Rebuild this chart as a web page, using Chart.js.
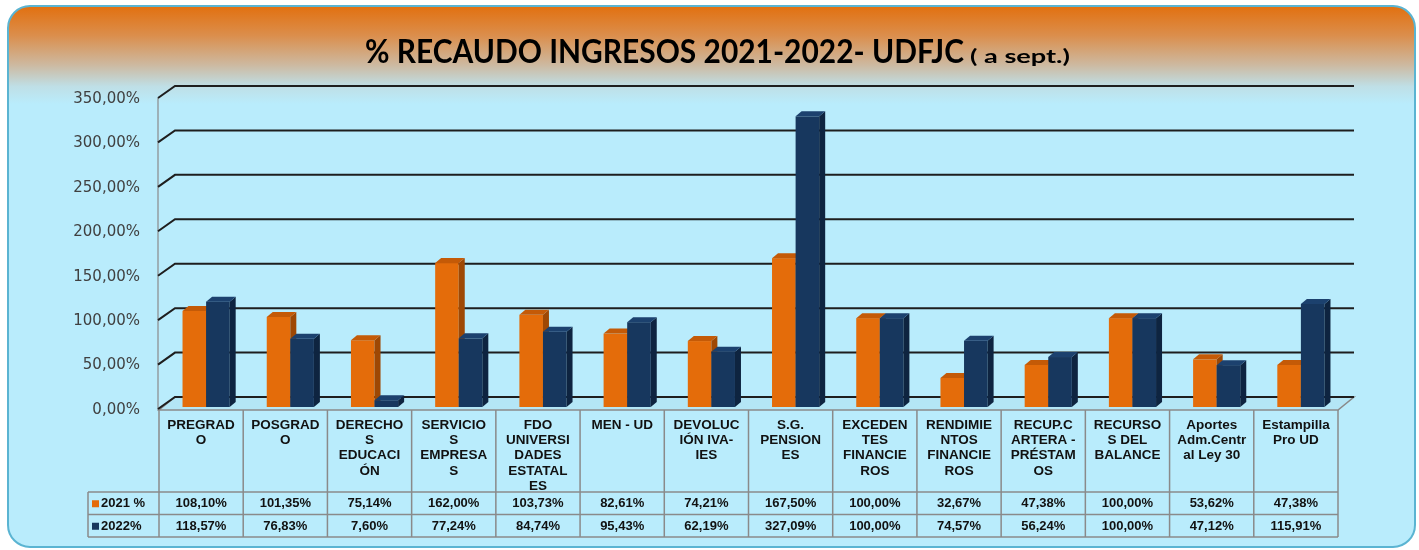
<!DOCTYPE html>
<html>
<head>
<meta charset="utf-8">
<script src="https://cdn.jsdelivr.net/npm/chart.js@4.4.1/dist/chart.umd.min.js"></script>
<style>
    html, body { margin: 0; padding: 0; background: #ffffff; }
    #wrap { width: 1419px; height: 550px; }
</style>
</head>
<body>
<div id="wrap"><canvas id="recaudoChart" width="1419" height="550"></canvas></div>
<script>
const categories = [
    ["PREGRAD", "O"],
    ["POSGRAD", "O"],
    ["DERECHO", "S", "EDUCACI", "ÓN"],
    ["SERVICIO", "S", "EMPRESA", "S"],
    ["FDO", "UNIVERSI", "DADES", "ESTATAL", "ES"],
    ["MEN - UD"],
    ["DEVOLUC", "IÓN IVA-", "IES"],
    ["S.G.", "PENSION", "ES"],
    ["EXCEDEN", "TES", "FINANCIE", "ROS"],
    ["RENDIMIE", "NTOS", "FINANCIE", "ROS"],
    ["RECUP.C", "ARTERA -", "PRÉSTAM", "OS"],
    ["RECURSO", "S DEL", "BALANCE"],
    ["Aportes", "Adm.Centr", "al Ley 30"],
    ["Estampilla", "Pro UD"]
]
const recaudo2021 = [108.10, 101.35, 75.14, 162.00, 103.73, 82.61, 74.21, 167.50, 100.00, 32.67, 47.38, 100.00, 53.62, 47.38]
const recaudo2022 = [118.57, 76.83, 7.60, 77.24, 84.74, 95.43, 62.19, 327.09, 100.00, 74.57, 56.24, 100.00, 47.12, 115.91]
const seriesNames = ["2021 %", "2022%"]

const titleMain = "% RECAUDO INGRESOS 2021-2022- UDFJC"
const titleSub = "( a sept.)"

// colores: frente, tapa, lado
const faces = [
    ["#E46C0A", "#C45A07", "#9E4804"],
    ["#17375E", "#1C416E", "#0E2440"]
]

function pct(v) {
    return v.toFixed(2).replace(".", ",") + "%"
}

// profundidad de la "caja" 3D
const wallDx = 16
const wallDy = 12
const barDx = 6
const barDy = 5
const barShift = 5

const backgroundPlugin = {
    id: "fondo",
    beforeDraw(chart) {
        const ctx = chart.ctx
        ctx.save()
        ctx.fillStyle = "#ffffff"
        ctx.fillRect(0, 0, chart.width, chart.height)

        const x0 = 8, y0 = 6, x1 = 1415, y1 = 547, r = 22
        ctx.beginPath()
        ctx.roundRect(x0, y0, x1 - x0, y1 - y0, r)
        const g = ctx.createLinearGradient(0, y0, 0, 104)
        g.addColorStop(0, "#E2700F")
        g.addColorStop(0.3, "#DB8E4C")
        g.addColorStop(0.6, "#CDB9A0")
        g.addColorStop(0.82, "#BFDFE6")
        g.addColorStop(1, "#B9ECFC")
        ctx.fillStyle = g
        ctx.fill()
        ctx.lineWidth = 2
        ctx.strokeStyle = "#5AB4D2"
        ctx.stroke()

        // titulo
        ctx.fillStyle = "#000000"
        ctx.textBaseline = "alphabetic"
        ctx.textAlign = "left"
        ctx.font = "bold 32px Lato, 'Open Sans', sans-serif"
        let w = ctx.measureText(titleMain).width
        ctx.save()
        ctx.translate(365, 63)
        ctx.scale(599 / w, 1)
        ctx.fillText(titleMain, 0, 0)
        ctx.restore()
        ctx.font = "bold 19px Lato, 'Open Sans', sans-serif"
        w = ctx.measureText(titleSub).width
        ctx.save()
        ctx.translate(970, 63)
        ctx.scale(100 / w, 1)
        ctx.fillText(titleSub, 0, 0)
        ctx.restore()
        ctx.restore()
    },
    beforeDatasetsDraw(chart) {
        const ctx = chart.ctx
        const area = chart.chartArea
        const y = chart.scales.y
        const left = area.left
        const right = area.right
        ctx.save()

        // piso
        const fy = y.getPixelForValue(0) + 3
        ctx.beginPath()
        ctx.moveTo(left, fy)
        ctx.lineTo(right, fy)
        ctx.lineTo(right + wallDx, fy - wallDy - 1)
        ctx.lineTo(left + wallDx, fy - wallDy - 1)
        ctx.closePath()
        ctx.fillStyle = "#B4E6F6"
        ctx.fill()
        ctx.strokeStyle = "#8A8A8A"
        ctx.lineWidth = 1.5
        ctx.stroke()

        // pared izquierda
        ctx.beginPath()
        ctx.moveTo(left - 1, y.getPixelForValue(350) + 2)
        ctx.lineTo(left - 1, fy)
        ctx.strokeStyle = "#8A8A8A"
        ctx.lineWidth = 1.2
        ctx.stroke()

        // lineas de division
        ctx.strokeStyle = "#1E1E1E"
        ctx.lineWidth = 2
        y.ticks.forEach(t => {
            const py = y.getPixelForValue(t.value) + 2
            ctx.beginPath()
            ctx.moveTo(left - 1, py)
            ctx.lineTo(left + wallDx, py - wallDy)
            ctx.lineTo(right + wallDx, py - wallDy)
            ctx.stroke()
        })
        ctx.restore()
    },
    beforeDatasetDraw() {
        return false
    },
    afterDatasetsDraw(chart) {
        const ctx = chart.ctx
        ctx.save()
        const n = chart.data.labels.length
        for (let i = 0; i < n; i++) {
            chart.data.datasets.forEach((ds, d) => {
                const el = chart.getDatasetMeta(d).data[i]
                const l = el.x - el.width / 2 + barShift
                const r = l + el.width
                const t = el.y
                const b = el.base
                const c = faces[d]
                ctx.fillStyle = c[0]
                ctx.fillRect(l, t, r - l, b - t)
                ctx.fillStyle = c[2]
                ctx.beginPath()
                ctx.moveTo(r, t)
                ctx.lineTo(r + barDx, t - barDy)
                ctx.lineTo(r + barDx, b - barDy)
                ctx.lineTo(r, b)
                ctx.closePath()
                ctx.fill()
                ctx.fillStyle = c[1]
                ctx.beginPath()
                ctx.moveTo(l, t)
                ctx.lineTo(l + barDx, t - barDy)
                ctx.lineTo(r + barDx, t - barDy)
                ctx.lineTo(r, t)
                ctx.closePath()
                ctx.fill()
            })
        }
        ctx.restore()
    }
}

const tablePlugin = {
    id: "tabla",
    afterDraw(chart) {
        const ctx = chart.ctx
        const x = chart.scales.x
        const area = chart.chartArea
        const n = chart.data.labels.length
        const colW = (area.right - area.left) / n
        const top = chart.scales.y.getPixelForValue(0) + 3
        const headBottom = 492
        const rowH = 22.5
        const legendLeft = 88
        const bottom = headBottom + rowH * 2

        ctx.save()
        ctx.strokeStyle = "#8A8A8A"
        ctx.lineWidth = 1.5
        ctx.beginPath()
        for (let i = 0; i <= n; i++) {
            const px = area.left + i * colW
            ctx.moveTo(px, top)
            ctx.lineTo(px, bottom)
        }
        ctx.moveTo(legendLeft, headBottom)
        ctx.lineTo(legendLeft, bottom)
        for (let k = 0; k <= 2; k++) {
            ctx.moveTo(legendLeft, headBottom + k * rowH)
            ctx.lineTo(area.right, headBottom + k * rowH)
        }
        ctx.stroke()

        ctx.fillStyle = "#111111"
        ctx.textAlign = "center"
        ctx.textBaseline = "middle"
        ctx.font = "bold 13.5px 'Liberation Sans', Arial, sans-serif"
        chart.data.labels.forEach((lines, i) => {
            const cx = x.getPixelForValue(i)
            lines.forEach((s, j) => ctx.fillText(s, cx, 425 + j * 15.3))
        })

        ctx.font = "bold 13px 'Liberation Sans', Arial, sans-serif"
        chart.data.datasets.forEach((ds, d) => {
            const cy = headBottom + rowH * d + rowH / 2 + 0.5
            ds.data.forEach((v, i) => {
                ctx.fillStyle = "#111111"
                ctx.textAlign = "center"
                ctx.fillText(pct(v), x.getPixelForValue(i), cy)
            })
            ctx.fillStyle = faces[d][0]
            ctx.fillRect(legendLeft + 4, cy - 3.5, 7, 7)
            ctx.fillStyle = "#111111"
            ctx.textAlign = "left"
            ctx.fillText(ds.label, legendLeft + 13, cy)
        })
        ctx.restore()
    }
}

const recaudoChart = new Chart(
    document.getElementById("recaudoChart"),
    {
        type: "bar",
        data: {
            labels: categories,
            datasets: [{
                label: seriesNames[0],
                data: recaudo2021,
                backgroundColor: faces[0][0],
                categoryPercentage: 0.56,
                barPercentage: 1
            }, {
                label: seriesNames[1],
                data: recaudo2022,
                backgroundColor: faces[1][0],
                categoryPercentage: 0.56,
                barPercentage: 1
            }]
        },
        options: {
            responsive: false,
            animation: false,
            layout: {
                padding: { top: 96, right: 81, bottom: 143, left: 0 }
            },
            plugins: {
                legend: { display: false },
                tooltip: { enabled: false }
            },
            scales: {
                x: {
                    display: false
                },
                y: {
                    min: 0,
                    max: 350,
                    afterFit(scale) {
                        scale.width = 159
                    },
                    grid: { display: false, drawTicks: false },
                    border: { display: false },
                    ticks: {
                        stepSize: 50,
                        padding: 19,
                        labelOffset: 3,
                        color: "#404040",
                        font: { family: "'DejaVu Sans', Verdana, sans-serif", size: 15 },
                        callback: v => pct(v)
                    }
                }
            }
        },
        plugins: [backgroundPlugin, tablePlugin]
    }
)
</script>
</body>
</html>
